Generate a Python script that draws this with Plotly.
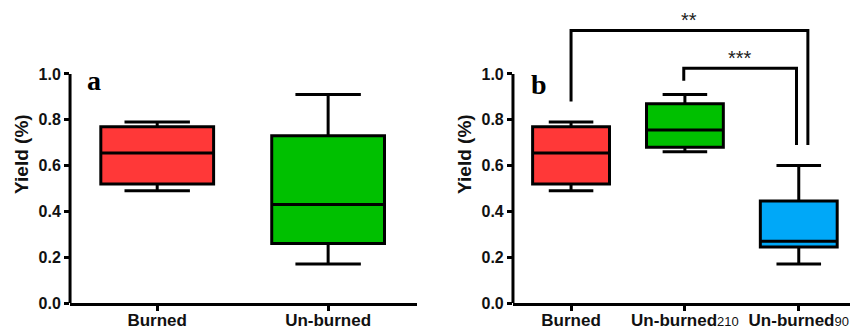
import plotly.graph_objects as go

SUB = "<span style='font-size:13px;font-weight:normal'>%s</span>"

# Panel a data
cats_a = ["Burned", "Un-burned"]
q1_a = [0.52, 0.26]
med_a = [0.655, 0.43]
q3_a = [0.77, 0.73]
lo_a = [0.49, 0.17]
hi_a = [0.79, 0.91]
colors_a = ["#FF3838", "#00C000"]

# Panel b data
cats_b = ["Burned", "Un-burned" + SUB % "210", "Un-burned" + SUB % "90"]
q1_b = [0.52, 0.68, 0.245]
med_b = [0.655, 0.755, 0.27]
q3_b = [0.77, 0.87, 0.445]
lo_b = [0.49, 0.66, 0.17]
hi_b = [0.79, 0.91, 0.60]
colors_b = ["#FF3838", "#00C000", "#00A8F8"]

# significance brackets: (x_left, x_right, y_left_bottom, y_right_bottom, y_top, label)
brackets = [
    (0.0, 2.08, 0.88, 0.69, 1.19, "**"),
    (0.99, 1.98, 0.97, 0.69, 1.025, "***"),
]

yticks = [0.0, 0.2, 0.4, 0.6, 0.8, 1.0]

FONT = "Liberation Sans, Arial"

fig = go.Figure()

def add_boxes(cats, q1, med, q3, lo, hi, colors, xa, ya, bw):
    for i, c in enumerate(cats):
        fig.add_trace(go.Box(
            x=[i], q1=[q1[i]], median=[med[i]], q3=[q3[i]],
            lowerfence=[lo[i]], upperfence=[hi[i]],
            fillcolor=colors[i], line=dict(color="black", width=3),
            width=bw, whiskerwidth=0.58, boxpoints=False,
            xaxis=xa, yaxis=ya, showlegend=False, hoverinfo="skip",
        ))

add_boxes(cats_a, q1_a, med_a, q3_a, lo_a, hi_a, colors_a, "x", "y", 0.66)
add_boxes(cats_b, q1_b, med_b, q3_b, lo_b, hi_b, colors_b, "x2", "y2", 0.675)

def xax(domain, rng, cats, anchor):
    return dict(domain=domain, range=rng, tickmode="array",
                tickvals=list(range(len(cats))),
                ticktext=["<b>%s</b>" % t for t in cats], anchor=anchor,
                showline=True, linecolor="black", linewidth=3, ticks="outside",
                ticklen=5, tickwidth=3, tickcolor="black", showgrid=False,
                zeroline=False, tickfont=dict(family=FONT, size=17, color="#111"),
                automargin=False, ticklabelstandoff=-5)

def yax(anchor):
    return dict(domain=[0.079, 0.984], range=[0, 1.3], anchor=anchor,
                tickmode="array", tickvals=yticks,
                ticktext=["<b>%.1f</b>" % v for v in yticks], showline=False,
                ticks="outside", ticklen=5, tickwidth=3, tickcolor="black",
                showgrid=False, zeroline=False,
                tickfont=dict(family=FONT, size=16, color="#111"), automargin=False,
                title=dict(text="<b>Yield (%)</b>",
                           font=dict(family=FONT, size=19, color="#111"), standoff=4))

fig.update_layout(
    width=850, height=329, margin=dict(l=0, r=0, t=0, b=0),
    plot_bgcolor="white", paper_bgcolor="white",
    font=dict(family=FONT),
    xaxis=xax([0.0824, 0.4906], [-0.51, 1.52], cats_a, "y"),
    xaxis2=xax([0.6035, 1.0], [-0.51, 2.45], cats_b, "y2"),
    yaxis=yax("x"),
    yaxis2=yax("x2"),
)

# y axis lines from 0 to 1.0
for xr, yr in (("x domain", "y"), ("x2 domain", "y2")):
    fig.add_shape(type="line", xref=xr, yref=yr, x0=0, x1=0, y0=0, y1=1.0,
                  line=dict(color="black", width=3))

# brackets
for xl, xr_, yl, yr_, yt, lab in brackets:
    fig.add_shape(type="path", xref="x2", yref="y2",
                  path=f"M {xl},{yl} L {xl},{yt} L {xr_},{yt} L {xr_},{yr_}",
                  line=dict(color="black", width=3))
    fig.add_annotation(x=(xl + xr_) / 2, y=yt, xref="x2", yref="y2", text=lab,
                       showarrow=False, yanchor="bottom", yshift=-3,
                       font=dict(family=FONT, size=20, color="#222"))

# panel letters
fig.add_annotation(x=-0.42, y=0.97, xref="x", yref="y", text="<b>a</b>", showarrow=False,
                   xanchor="left", yanchor="middle",
                   font=dict(family="Liberation Serif, Times New Roman", size=28, color="black"))
fig.add_annotation(x=-0.37, y=0.955, xref="x2", yref="y2", text="<b>b</b>", showarrow=False,
                   xanchor="left", yanchor="middle",
                   font=dict(family="Liberation Serif, Times New Roman", size=28, color="black"))

fig.write_html("out.html")
